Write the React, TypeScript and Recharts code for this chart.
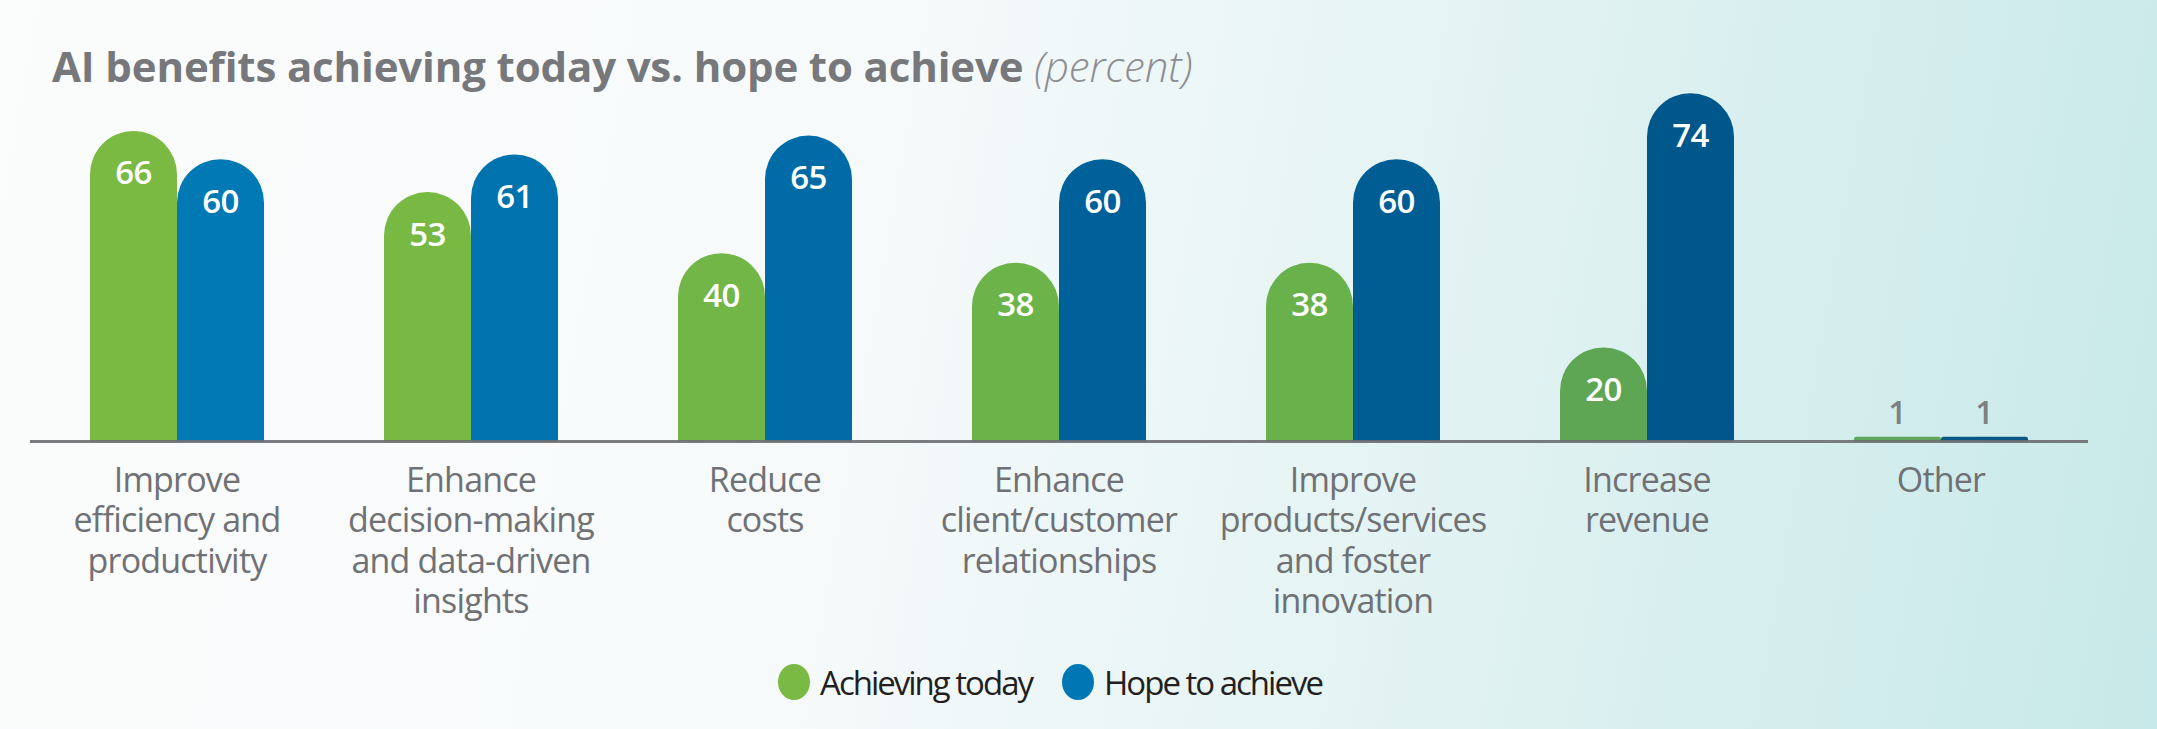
import { BarChart, Bar, XAxis, YAxis, Cell, LabelList, Legend, ReferenceLine } from 'recharts';

const categories = [
    'Improve efficiency and productivity',
    'Enhance decision-making and data-driven insights',
    'Reduce costs',
    'Enhance client/customer relationships',
    'Improve products/services and foster innovation',
    'Increase revenue',
    'Other',
];

// axis labels, already broken into lines
const tickLines = [
    ['Improve', 'efficiency and', 'productivity'],
    ['Enhance', 'decision-making', 'and data-driven', 'insights'],
    ['Reduce', 'costs'],
    ['Enhance', 'client/customer', 'relationships'],
    ['Improve', 'products/services', 'and foster', 'innovation'],
    ['Increase', 'revenue'],
    ['Other'],
];

const achievingToday = [66, 53, 40, 38, 38, 20, 1];
const hopeToAchieve = [60, 61, 65, 60, 60, 74, 1];

const data = categories.map((name, i) => ({
    name,
    today: achievingToday[i],
    hope: hopeToAchieve[i],
}));

// bars shade slightly darker from left to right
const greenShades = ['#7aba43', '#78b944', '#72b647', '#6cb449', '#69b14b', '#5ea654', '#5fa65a'];
const blueShades = ['#0079b5', '#0072ae', '#006ba7', '#00609a', '#005d94', '#00578b', '#0a5888'];

const FONT = "'Open Sans', sans-serif";

const CategoryTick = (props: any) => {
    const { x, y, payload } = props;
    const lines = tickLines[payload.index] || [payload.value];
    return (
        <g transform={`translate(${x},${y})`}>
            <text
                textAnchor="middle"
                fill="#6f7175"
                fontSize={34}
                fontFamily={FONT}
                style={{ fontStretch: '100%', letterSpacing: -0.8 }}
            >
                {lines.map((line: string, i: number) => (
                    <tspan key={i} x={0} dy={i === 0 ? 50 : 40.5}>
                        {line}
                    </tspan>
                ))}
            </text>
        </g>
    );
};

const ValueLabel = (props: any) => {
    const { x, y, width, height, value } = props;
    const cx = x + width / 2;
    if (height < 60) {
        return (
            <text
                x={cx}
                y={y - 13}
                textAnchor="middle"
                fill="#7d7f83"
                fontSize={32}
                fontWeight={600}
                fontFamily={FONT}
                style={{ fontStretch: '100%' }}
            >
                {value}
            </text>
        );
    }
    return (
        <text
            x={cx}
            y={y + 41}
            textAnchor="middle"
            dominantBaseline="central"
            fill="#ffffff"
            fontSize={33}
            fontWeight={600}
            fontFamily={FONT}
            style={{ fontStretch: '100%', letterSpacing: -0.5 }}
        >
            {value}
        </text>
    );
};

const LegendContent = () => {
    const items = [
        { label: 'Achieving today', color: '#7ab943' },
        { label: 'Hope to achieve', color: '#0077b5' },
    ];
    return (
        <div style={{ display: 'flex', justifyContent: 'center', alignItems: 'center', gap: 30 }}>
            {items.map((item) => (
                <div key={item.label} style={{ display: 'flex', alignItems: 'center', gap: 10 }}>
                    <span
                        style={{
                            width: 32,
                            height: 36,
                            borderRadius: '50%',
                            background: item.color,
                            display: 'inline-block',
                        }}
                    />
                    <span
                        style={{
                            fontSize: 33,
                            color: '#231f20',
                            fontFamily: FONT,
                            fontStretch: '100%',
                            letterSpacing: -2,
                            lineHeight: 1,
                        }}
                    >
                        {item.label}
                    </span>
                </div>
            ))}
        </div>
    );
};

export default function App() {
    return (
        <div
            style={{
                position: 'absolute',
                left: 0,
                top: 0,
                width: 2157,
                height: 729,
                overflow: 'hidden',
                background:
                    'linear-gradient(100deg, #fbfcfc 0%, #f7fafb 38%, #e6f4f4 62%, #d3eded 85%, #c8e9e9 100%)',
            }}
        >
            <div
                style={{
                    position: 'absolute',
                    left: 52,
                    top: 37,
                    fontFamily: FONT,
                    fontStretch: '100%',
                    fontSize: 42,
                    letterSpacing: -0.15,
                    lineHeight: 'normal',
                    whiteSpace: 'nowrap',
                    color: '#76787b',
                }}
            >
                <span style={{ fontWeight: 700 }}>AI benefits achieving today vs. hope to achieve</span>{' '}
                <span style={{ fontWeight: 300, fontStyle: 'italic', color: '#8c8e91' }}>(percent)</span>
            </div>
            <BarChart
                width={2157}
                height={729}
                data={data}
                margin={{ top: 65, right: 69, bottom: 87.5, left: 30 }}
                barGap={0}
                style={{ position: 'absolute', left: 0, top: 0 }}
            >
                <XAxis
                    dataKey="name"
                    axisLine={false}
                    tickLine={false}
                    tickSize={0}
                    tickMargin={0}
                    height={200}
                    interval={0}
                    tick={<CategoryTick />}
                />
                <YAxis hide domain={[0, 80]} />
                <Legend
                    verticalAlign="middle"
                    layout="horizontal"
                    content={<LegendContent />}
                    wrapperStyle={{ top: 664, left: 0, width: 2100 }}
                />
                <Bar
                    dataKey="today"
                    name="Achieving today"
                    fill="#7ab943"
                    barSize={87}
                    radius={[43.5, 43.5, 0, 0]}
                    isAnimationActive={false}
                >
                    {data.map((_, i) => (
                        <Cell key={i} fill={greenShades[i]} />
                    ))}
                    <LabelList dataKey="today" content={<ValueLabel />} />
                </Bar>
                <Bar
                    dataKey="hope"
                    name="Hope to achieve"
                    fill="#0077b5"
                    barSize={87}
                    radius={[43.5, 43.5, 0, 0]}
                    isAnimationActive={false}
                >
                    {data.map((_, i) => (
                        <Cell key={i} fill={blueShades[i]} />
                    ))}
                    <LabelList dataKey="hope" content={<ValueLabel />} />
                </Bar>
                <ReferenceLine y={0} stroke="#6d6e71" strokeWidth={3} strokeOpacity={0.9} />
            </BarChart>
        </div>
    );
}
